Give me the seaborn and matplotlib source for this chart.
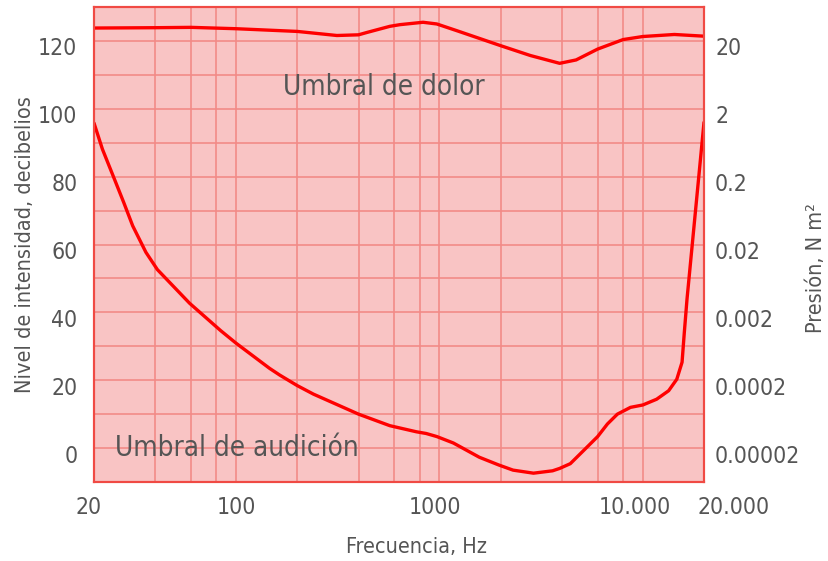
import matplotlib
matplotlib.use("Agg")
import matplotlib.pyplot as plt
import seaborn as sns
import pandas as pd
from matplotlib.transforms import ScaledTranslation
from matplotlib.ticker import FixedLocator, NullFormatter

# ---- data ----
audicion_freq = [20, 22, 25, 28, 31, 36, 41, 59, 84, 100, 146, 164, 200, 240, 400,
                 570, 770, 860, 970, 1170, 1570, 1960, 2300, 2900, 3600, 3900, 4400,
                 5100, 6000, 6700, 7500, 8700, 10000, 11700, 13400, 14700, 15600,
                 16000, 16500, 20000]
audicion_db = [95.8, 88.1, 79.8, 72.4, 65.5, 57.7, 52.6, 42.7, 34.6, 30.9, 23.5, 21.5,
               18.4, 15.9, 10.0, 6.6, 4.8, 4.3, 3.4, 1.5, -2.7, -5.0, -6.5, -7.4, -6.7,
               -6.0, -4.6, -0.8, 3.4, 7.1, 10.0, 12.0, 12.7, 14.4, 16.9, 20.3, 25.3,
               34.0, 43.9, 96.0]

dolor_freq = [20, 40, 60, 100, 200, 313, 400, 440, 570, 640, 830, 970, 1220, 2000,
              2800, 3900, 4700, 6000, 8000, 10000, 14300, 20000]
dolor_db = [123.8, 123.9, 124.0, 123.6, 122.8, 121.6, 121.8, 122.5, 124.3, 124.8,
            125.5, 125.0, 123.0, 118.6, 115.7, 113.4, 114.4, 117.6, 120.4, 121.3,
            121.9, 121.4]

x_ticks = [20, 100, 1000, 10000, 20000]
x_tick_labels = ["20", "100", "1000", "10.000", "20.000"]
x_grid = [40, 60, 80, 200, 400, 600, 800, 2000, 4000, 6000, 8000]
y_ticks = [0, 20, 40, 60, 80, 100, 120]
y_grid = [-10, 10, 30, 50, 70, 90, 110, 130]
presion_labels = ["0.00002", "0.0002", "0.002", "0.02", "0.2", "2", "20"]

# ---- style ----
sns.set_theme(style="white")
plt.rcParams["font.family"] = ["DejaVu Sans"]
plt.rcParams["font.stretch"] = "condensed"
TXT = "#555555"
RED = "#FF0000"
GRID = "#F28A86"
BORDER = "#F04A44"
TICK_FS = 16.5
LABEL_FS = 15.5
NOTE_FS = 20

fig = plt.figure(figsize=(8.29, 5.61), dpi=100)
ax = fig.add_axes([94 / 829, 1 - 482 / 561, 610 / 829, 475 / 561])
ax.set_facecolor("#F9C4C4")
ax.set_xscale("log")

df_a = pd.DataFrame({"f": audicion_freq, "db": audicion_db})
df_d = pd.DataFrame({"f": dolor_freq, "db": dolor_db})
sns.lineplot(data=df_a, x="f", y="db", ax=ax, color=RED, linewidth=2.4, zorder=5)
sns.lineplot(data=df_d, x="f", y="db", ax=ax, color=RED, linewidth=2.4, zorder=5)

ax.set_xlim(20, 20000)
ax.set_ylim(-10, 130)
ax.xaxis.set_major_locator(FixedLocator(x_ticks))
ax.xaxis.set_minor_locator(FixedLocator(x_grid))
ax.xaxis.set_minor_formatter(NullFormatter())
ax.set_xticks(x_ticks, x_tick_labels)
ax.yaxis.set_major_locator(FixedLocator(y_ticks))
ax.yaxis.set_minor_locator(FixedLocator(y_grid))
ax.set_axisbelow(True)
ax.grid(True, which="both", color=GRID, linewidth=1.3, alpha=0.9)
ax.tick_params(which="both", length=0)
ax.tick_params(axis="x", pad=10, labelsize=TICK_FS, labelcolor=TXT)
ax.tick_params(axis="y", pad=12, labelsize=TICK_FS, labelcolor=TXT)

for s in ax.spines.values():
    s.set_color(BORDER)
    s.set_linewidth(1.5)

ax.set_xlabel("Frecuencia, Hz", fontsize=LABEL_FS, color=TXT)
ax.set_ylabel("Nivel de intensidad, decibelios", fontsize=LABEL_FS, color=TXT)
ax.xaxis.set_label_coords(0.528, -0.115)
ax.yaxis.set_label_coords(-0.097, 0.5)

ax.text(170, 106.5, "Umbral de dolor", fontsize=NOTE_FS, color=TXT, va="center", ha="left", zorder=6)
ax.text(25.4, 0, "Umbral de audición", fontsize=NOTE_FS, color=TXT, va="center", ha="left", zorder=6)

ax2 = ax.twinx()
ax2.set_ylim(-10, 130)
ax2.set_yticks(y_ticks, presion_labels)
ax2.grid(False)
ax2.tick_params(length=0, pad=8, labelsize=TICK_FS, labelcolor=TXT)
for s in ax2.spines.values():
    s.set_color(BORDER)
    s.set_linewidth(1.5)
ax2.set_ylabel("Presión, N m²", fontsize=LABEL_FS, color=TXT)
ax2.yaxis.set_label_coords(1.167, 0.45)

# small offsets of tick labels as in the reference
dy = ScaledTranslation(0, -4 / 72, fig.dpi_scale_trans)
for lab in ax.get_yticklabels() + ax2.get_yticklabels():
    lab.set_transform(lab.get_transform() + dy)
xoff = [-4, 0, -3, -6, 21]
for lab, d in zip(ax.get_xticklabels(), xoff):
    lab.set_transform(lab.get_transform() + ScaledTranslation(d / 72, 0, fig.dpi_scale_trans))

fig.savefig("out.png", dpi=100)
